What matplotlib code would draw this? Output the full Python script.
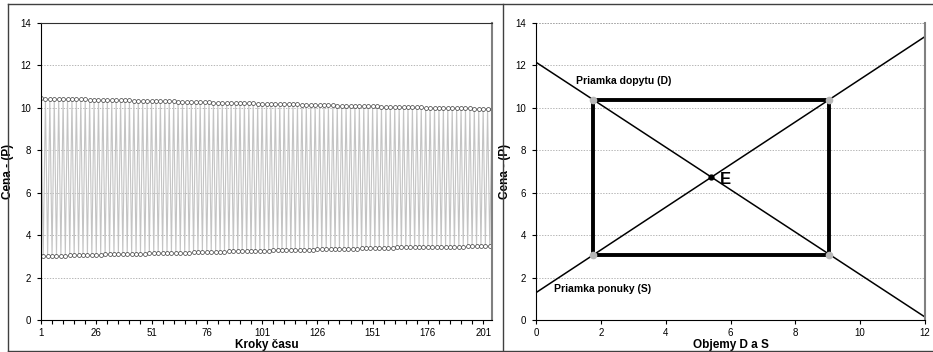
import matplotlib
matplotlib.use("Agg")
import matplotlib.pyplot as plt
from matplotlib.lines import Line2D
from matplotlib.ticker import MultipleLocator, FixedLocator

plt.rcParams["font.family"] = ["Liberation Sans", "DejaVu Sans"]

# --- left chart: price in time (cobweb oscillation) ---
price_highs = [
    10.45, 10.44, 10.44, 10.43, 10.43, 10.42, 10.42, 10.41, 10.41, 10.40,
    10.40, 10.39, 10.39, 10.38, 10.38, 10.37, 10.37, 10.36, 10.36, 10.35,
    10.35, 10.34, 10.34, 10.33, 10.33, 10.32, 10.32, 10.31, 10.31, 10.30,
    10.30, 10.29, 10.29, 10.28, 10.28, 10.27, 10.27, 10.26, 10.26, 10.25,
    10.25, 10.24, 10.24, 10.23, 10.23, 10.22, 10.22, 10.21, 10.21, 10.20,
    10.20, 10.19, 10.19, 10.18, 10.18, 10.17, 10.17, 10.16, 10.16, 10.15,
    10.15, 10.14, 10.14, 10.13, 10.13, 10.12, 10.12, 10.11, 10.11, 10.10,
    10.10, 10.09, 10.09, 10.08, 10.08, 10.07, 10.07, 10.06, 10.06, 10.05,
    10.05, 10.04, 10.04, 10.03, 10.03, 10.02, 10.02, 10.01, 10.01, 10.00,
    10.00, 9.99, 9.99, 9.98, 9.98, 9.97, 9.97, 9.97, 9.96, 9.96,
    9.96, 9.95, 9.95,
]
price_lows = [
    3.02, 3.02, 3.03, 3.03, 3.04, 3.04, 3.05, 3.05, 3.06, 3.06,
    3.07, 3.07, 3.08, 3.08, 3.09, 3.09, 3.10, 3.10, 3.11, 3.11,
    3.12, 3.12, 3.13, 3.13, 3.14, 3.14, 3.15, 3.15, 3.16, 3.16,
    3.17, 3.17, 3.18, 3.18, 3.19, 3.19, 3.20, 3.20, 3.21, 3.21,
    3.22, 3.22, 3.23, 3.23, 3.24, 3.24, 3.25, 3.25, 3.26, 3.26,
    3.27, 3.27, 3.28, 3.28, 3.29, 3.29, 3.30, 3.30, 3.31, 3.31,
    3.32, 3.32, 3.33, 3.33, 3.34, 3.34, 3.35, 3.35, 3.36, 3.36,
    3.37, 3.37, 3.38, 3.38, 3.39, 3.39, 3.40, 3.40, 3.41, 3.41,
    3.42, 3.42, 3.43, 3.43, 3.44, 3.44, 3.44, 3.45, 3.45, 3.45,
    3.45, 3.46, 3.46, 3.46, 3.46, 3.46, 3.47, 3.47, 3.47, 3.47,
    3.48, 3.48,
]
step_labels = [1, 26, 51, 76, 101, 126, 151, 176, 201]

# --- right chart: demand / supply lines and the cycle ---
volume_ends = [0, 12]
demand_ends = [12.15, 0.14]
supply_ends = [1.29, 13.36]
cycle_q = [1.76, 1.76, 9.04, 9.04, 1.76]
cycle_p = [3.07, 10.38, 10.38, 3.08, 3.08]
corner_q = [1.76, 9.04, 9.04, 1.76]
corner_p = [10.38, 10.38, 3.08, 3.07]
eq_q, eq_p = 5.41, 6.73

# interleave high / low prices into the time series
prices = []
for i, hi in enumerate(price_highs):
    prices.append(hi)
    if i < len(price_lows):
        prices.append(price_lows[i])
steps = list(range(1, len(prices) + 1))

W, H = 933, 352
fig = plt.figure(figsize=(W / 100, H / 100), dpi=100)

GRID = dict(color="#9a9a9a", linestyle=(0, (2, 2)), linewidth=0.5)


def px_axes(x0, x1, y0, y1):
    return fig.add_axes([x0 / W, 1 - y1 / H, (x1 - x0) / W, (y1 - y0) / H])


def style_axes(ax, ylab_x):
    ax.set_ylim(0, 14)
    ax.yaxis.set_major_locator(MultipleLocator(2))
    ax.grid(axis="y", **GRID)
    ax.set_axisbelow(True)
    ax.tick_params(axis="both", which="both", direction="out", length=3,
                   width=0.8, labelsize=7, color="black", pad=4)
    ax.tick_params(axis="x", pad=2.5)
    ax.spines["left"].set_color("black")
    ax.spines["bottom"].set_color("black")
    ax.spines["right"].set_color("#808080")
    ax.spines["right"].set_linewidth(1.5)
    ax.set_ylabel("Cena - (P)", fontsize=8.5, fontweight="bold")
    ax.yaxis.set_label_coords(ylab_x, 0.5)


# left chart
ax1 = px_axes(41, 492, 23, 320)
ax1.plot(steps, prices, color="#c4c4c4", linewidth=0.8, marker="o",
         markersize=2.8, markerfacecolor="white", markeredgecolor="#3a3a3a",
         markeredgewidth=0.5)
ax1.set_xlim(1, len(prices))
ax1.xaxis.set_major_locator(FixedLocator(step_labels))
ax1.xaxis.set_minor_locator(FixedLocator(list(range(1, len(prices) + 1, 5))))
style_axes(ax1, (14 - 41) / 451)
ax1.spines["top"].set_color("#303030")
ax1.set_xlabel("Kroky času", fontsize=8.5, fontweight="bold")
ax1.xaxis.set_label_coords(0.5, -0.063)

# right chart
ax2 = px_axes(536, 925, 23, 320)
ax2.plot(volume_ends, demand_ends, color="black", linewidth=1.1)
ax2.plot(volume_ends, supply_ends, color="black", linewidth=1.1)
ax2.plot(cycle_q, cycle_p, color="black", linewidth=2.8, solid_joinstyle="miter")
ax2.plot(corner_q, corner_p, linestyle="none", marker="o", markersize=4.5,
         color="#b8b8b8")
ax2.plot([eq_q], [eq_p], marker="o", markersize=3.5, color="black")
ax2.text(eq_q + 0.25, eq_p - 0.1, "E", fontsize=12, fontweight="bold",
         va="center", ha="left")
ax2.text(1.23, 11.25, "Priamka dopytu (D)", fontsize=7.5, fontweight="bold",
         va="center", ha="left")
ax2.text(0.55, 1.45, "Priamka ponuky (S)", fontsize=7.5, fontweight="bold",
         va="center", ha="left")
ax2.set_xlim(0, 12)
ax2.xaxis.set_major_locator(MultipleLocator(2))
style_axes(ax2, (511 - 536) / 389)
ax2.spines["top"].set_visible(False)
ax2.axhline(14, clip_on=False, **GRID)
ax2.set_xlabel("Objemy D a S", fontsize=8.5, fontweight="bold")
ax2.xaxis.set_label_coords(0.5, -0.063)

# chart-area borders
def fig_line(xs, ys):
    fig.add_artist(Line2D([x / W for x in xs], [1 - y / H for y in ys],
                          color="#404040", linewidth=1.0))

fig_line([8, W], [4, 4])
fig_line([8, W], [351, 351])
fig_line([8, 8], [4, 351])
fig_line([503, 503], [4, 351])

fig.savefig("out.png", dpi=100)
